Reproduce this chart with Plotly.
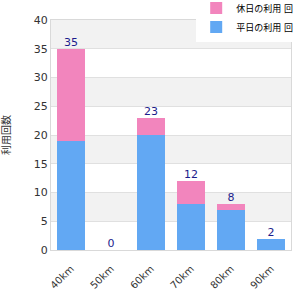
import plotly.graph_objects as go

categories = ["40km", "50km", "60km", "70km", "80km", "90km"]
weekday = [19, 0, 20, 8, 7, 2]
holiday = [16, 0, 3, 4, 1, 0]
totals = [35, 0, 23, 12, 8, 2]
y_title = "利用回数"
name_weekday = "平日の利用 回"
name_holiday = "休日の利用 回"

FONT = "Verdana, DejaVu Sans, Noto Sans CJK JP, sans-serif"

fig = go.Figure()
fig.add_trace(go.Bar(x=categories, y=weekday, name=name_weekday,
                     marker=dict(color="#62a8f3", line=dict(width=0))))
fig.add_trace(go.Bar(x=categories, y=holiday, name=name_holiday,
                     marker=dict(color="#f285bd", line=dict(width=0))))
fig.add_trace(go.Scatter(x=categories, y=totals, mode="text", text=[str(t) for t in totals],
                         textposition="top center", showlegend=False, hoverinfo="skip",
                         textfont=dict(color="#1c1c8c", size=11, family=FONT)))

# alternating background bands
shapes = []
for lo in range(5, 40, 10):
    shapes.append(dict(type="rect", xref="paper", yref="y", x0=0, x1=1, y0=lo, y1=lo + 5,
                       fillcolor="#f2f2f2", line=dict(width=0), layer="below"))

fig.update_layout(
    width=300, height=300,
    margin=dict(l=51, r=9, t=20, b=50, autoexpand=False),
    barmode="stack", bargap=0.28,
    plot_bgcolor="white", paper_bgcolor="white",
    font=dict(family=FONT, size=11, color="#333333"),
    shapes=shapes,
    showlegend=True,
    legend=dict(x=1.03, y=1.115, xanchor="right", yanchor="top", traceorder="reversed",
                bgcolor="white", font=dict(size=9, color="#000000"),
                itemwidth=30, tracegroupgap=0),
    xaxis=dict(tickangle=-45, showline=True, linecolor="#d9d9d9", mirror=True,
               ticks="", ticklabelstandoff=8, tickfont=dict(size=10, color="#333333")),
    yaxis=dict(range=[0, 40], dtick=5, showgrid=True, gridcolor="#e0e0e0",
               showline=True, linecolor="#d9d9d9", mirror=True, zeroline=False,
               ticks="", tickfont=dict(size=11, color="#333333"),
               title=dict(text=y_title, font=dict(size=10, color="#333333"), standoff=22)),
)

fig.write_html("out.html")
